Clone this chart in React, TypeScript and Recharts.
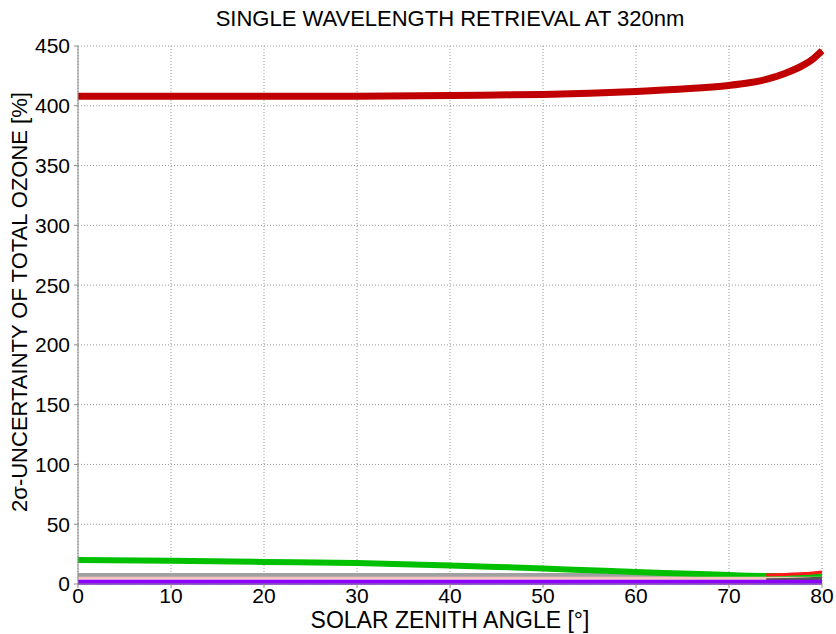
import { LineChart, Line, XAxis, YAxis, CartesianGrid } from "recharts";

// solar zenith angle [deg]
const sza = [0, 10, 20, 30, 40, 45, 50, 55, 60, 65, 70, 72, 74, 76, 78, 79, 80];

// 2-sigma uncertainty [%] per error source
const totalRed = [408, 408, 408, 408, 408.5, 409, 409.5, 410.5, 412, 414, 417, 419, 422, 427, 434, 439, 446];
const totalDark = [408.5, 408.5, 409, 409, 409.5, 410, 410.5, 411.5, 413, 415, 418, 420, 423, 428, 435, 440, 446];
const green = [20, 19.5, 18.5, 17.5, 15.5, 14.3, 13, 11.5, 10, 8.8, 7.5, 7, 6.6, 6.3, 6, 6, 6];
const gray = [7.5, 7.5, 7.5, 7.5, 7.5, 7.5, 7.5, 7.5, 7.5, 7.5, 7.5, 7.5, 7.5, 7.6, 7.7, 7.8, 8];
const redLow = [null, null, null, null, null, null, null, null, null, null, null, null, 7.5, 8, 8.7, 9.3, 10];
const pink = [4.8, 4.8, 4.8, 4.8, 4.8, 4.8, 4.8, 4.8, 4.8, 4.8, 4.8, 4.8, 4.8, 4.8, 4.8, 4.8, 4.8];
const darkLow = [null, null, null, null, null, null, null, null, null, null, null, null, 3.5, 3.8, 4.2, 4.5, 4.8];
const purple = [1.5, 1.5, 1.5, 1.5, 1.5, 1.5, 1.5, 1.5, 1.5, 1.5, 1.5, 1.5, 1.5, 1.5, 1.5, 1.5, 1.5];

const xTicks = [0, 10, 20, 30, 40, 50, 60, 70, 80];
const yTicks = [0, 50, 100, 150, 200, 250, 300, 350, 400, 450];

const data = sza.map((x, i) => ({
  x,
  totalRed: totalRed[i],
  totalDark: totalDark[i],
  green: green[i],
  gray: gray[i],
  redLow: redLow[i],
  pink: pink[i],
  darkLow: darkLow[i],
  purple: purple[i],
}));

const font = "'Liberation Sans', Arial, sans-serif";
const tickStyle = { fontSize: 21, fill: "#000", fontFamily: font };

export default function App() {
  return (
    <div style={{ position: "absolute", left: 0, top: 0, width: 836, height: 634, background: "#fff", fontFamily: font }}>
      <div style={{ position: "absolute", top: 6, left: 78, width: 744, textAlign: "center", fontSize: 22 }}>
        SINGLE WAVELENGTH RETRIEVAL AT 320nm
      </div>
      <div style={{ position: "absolute", top: 607, left: 78, width: 744, textAlign: "center", fontSize: 23 }}>
        SOLAR ZENITH ANGLE [°]
      </div>
      {/* rotated y-axis title */}
      <div
        style={{
          position: "absolute",
          left: 20,
          top: 302,
          width: 500,
          marginLeft: -250,
          textAlign: "center",
          fontSize: 22,
          transform: "rotate(-90deg)",
          transformOrigin: "center center",
          lineHeight: "24px",
          marginTop: -12,
        }}
      >
        2σ-UNCERTAINTY OF TOTAL OZONE [%]
      </div>
      <LineChart
        width={836}
        height={634}
        data={data}
        margin={{ top: 46, right: 14, bottom: 0, left: 0 }}
        style={{ position: "absolute", left: 0, top: 0 }}
      >
        <CartesianGrid stroke="#999" strokeDasharray="1 2" />
        <XAxis
          dataKey="x"
          type="number"
          domain={[0, 80]}
          ticks={xTicks}
          tick={tickStyle}
          tickLine={{ stroke: "#888" }}
          tickSize={4}
          tickMargin={0}
          axisLine={{ stroke: "#888" }}
          height={50}
        />
        <XAxis xAxisId="top" orientation="top" dataKey="x" type="number" domain={[0, 80]} tick={false} height={0} axisLine={{ stroke: "#888" }} />
        <YAxis
          domain={[0, 450]}
          ticks={yTicks}
          tick={tickStyle}
          tickLine={{ stroke: "#888" }}
          tickSize={4}
          tickMargin={4}
          axisLine={{ stroke: "#888" }}
          width={78}
          interval={0}
        />
        <YAxis yAxisId="right" orientation="right" domain={[0, 450]} tick={false} width={0} axisLine={{ stroke: "#888" }} />
        <Line dataKey="totalDark" stroke="#333" strokeWidth={3} dot={false} isAnimationActive={false} type="monotone" />
        <Line dataKey="totalRed" stroke="#c00000" strokeWidth={7} dot={false} isAnimationActive={false} type="monotone" />
        <Line dataKey="gray" stroke="#a0a0a0" strokeWidth={4} dot={false} isAnimationActive={false} type="monotone" />
        <Line dataKey="green" stroke="#00c000" strokeWidth={6} dot={false} isAnimationActive={false} type="monotone" />
        <Line dataKey="redLow" stroke="#ff1a1a" strokeWidth={3} dot={false} isAnimationActive={false} type="monotone" connectNulls={false} />
        <Line dataKey="pink" stroke="#f5c6c0" strokeWidth={3} dot={false} isAnimationActive={false} type="monotone" />
        <Line dataKey="darkLow" stroke="#555" strokeWidth={3} dot={false} isAnimationActive={false} type="monotone" connectNulls={false} />
        <Line dataKey="purple" stroke="#8b00ff" strokeWidth={5} dot={false} isAnimationActive={false} type="monotone" />
      </LineChart>
    </div>
  );
}
